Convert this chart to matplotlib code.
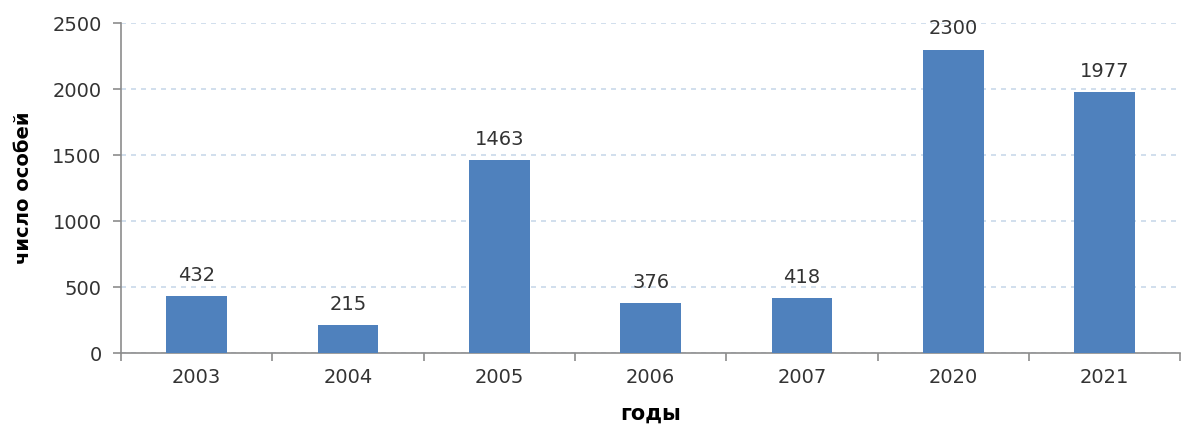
import matplotlib.pyplot as plt
import numpy as np

# data
years = ['2003', '2004', '2005', '2006', '2007', '2020', '2021']
counts = [432, 215, 1463, 376, 418, 2300, 1977]

plt.rcParams['font.family'] = ['DejaVu Sans']

fig = plt.figure(figsize=(11.81, 4.28), dpi=100)
ax = fig.add_axes([0.1025, 0.175, 0.897, 0.771])

x = np.arange(len(years))
bars = ax.bar(x, counts, width=0.4, color='#4f81bd', zorder=3)

for xi, v in zip(x, counts):
    ax.annotate(str(v), (xi, v), xytext=(0, 8), textcoords='offset points',
                ha='center', va='bottom', fontsize=14, color='#333333')

ax.set_xlim(-0.5, len(years) - 0.5)
ax.set_ylim(0, 2500)
ax.set_yticks(range(0, 2501, 500))
ax.yaxis.grid(True, linestyle=(0, (3, 3)), color='#c9d9ea', linewidth=1.2, zorder=0)

ax.set_xticks(x)
ax.set_xticklabels(years, fontsize=14, color='#333333')
ax.set_xticks(np.arange(-0.5, len(years)), minor=True)
ax.tick_params(axis='x', which='major', length=0, pad=11)
ax.tick_params(axis='x', which='minor', length=6, color='#8c8c8c', width=1.2)
ax.tick_params(axis='y', length=6, color='#8c8c8c', width=1.2, labelsize=14,
               labelcolor='#333333', pad=8)

for s in ['top', 'right']:
    ax.spines[s].set_visible(False)
for s in ['left', 'bottom']:
    ax.spines[s].set_color('#8c8c8c')
    ax.spines[s].set_linewidth(1.2)

ax.set_ylabel('число особей', fontsize=14, fontweight='bold', labelpad=14)
ax.set_xlabel('годы', fontsize=15, fontweight='bold', labelpad=12)

fig.savefig('out.png', dpi=100)
